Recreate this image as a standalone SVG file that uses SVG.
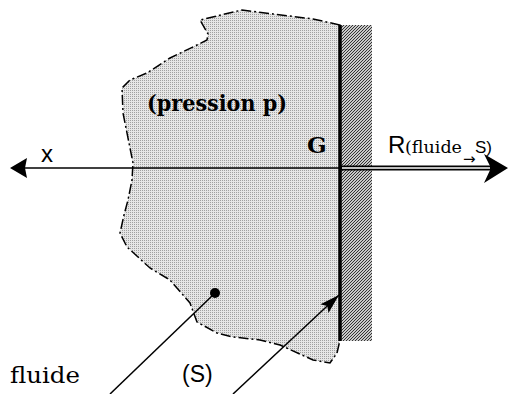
<svg xmlns="http://www.w3.org/2000/svg" width="510" height="394" viewBox="0 0 510 394">
<style>
.serif{font-family:"DejaVu Serif","Liberation Serif",serif}
.sans{font-family:"Liberation Sans",Arial,sans-serif}
.ln{stroke:#000;stroke-width:1.5;fill:none}
</style>
<defs>
<pattern id="dots" width="2" height="2" patternUnits="userSpaceOnUse">
<rect width="2" height="2" fill="#e6e6e6"/>
<rect width="1" height="1" fill="#a0a0a0"/>
</pattern>
<pattern id="hatch" width="3" height="3" patternUnits="userSpaceOnUse">
<rect width="3" height="3" fill="#c8c8c8"/>
<path d="M-1,1 L1,-1 M0,3 L3,0 M2,4 L4,2" stroke="#333" stroke-width="1"/>
</pattern>
<marker id="ah" viewBox="0 0 20 12" refX="20" refY="6" markerWidth="20" markerHeight="12" markerUnits="userSpaceOnUse" orient="auto">
<path d="M0,0 L20,6 L0,12 L4,6 Z" fill="#000"/>
</marker>
</defs>
<g id="fluide-region">
<path d="M340,25 L313,19 L273,14 L242,10 L200,20 L208,34 L207,40 L197,45 L170,58 L147,73 L130,80 L122,88 L123,113 L133,163 L132,180 L128,200 L124,215 L120,233 L127,247 L150,268 L170,280 L190,303 L197,322 L217,333 L233,337 L260,340 L280,345 L313,360 L330,363 L337,353 L340,340 Z" fill="url(#dots)" stroke="#000" stroke-width="1.5" stroke-dasharray="10 3 2 3"/>
</g>
<g id="paroi">
<rect x="341" y="25" width="31" height="316" fill="url(#hatch)"/>
<line x1="340" y1="25" x2="340" y2="341" stroke="#000" stroke-width="3.5"/>
</g>
<g id="connectors">
<line x1="24" y1="168" x2="340" y2="168" class="ln"/>
<path d="M10,168 L27,158 L25,168 L27,178 Z" fill="#000"/>
<line x1="340" y1="168" x2="492" y2="168" stroke="#000" stroke-width="5"/>
<line x1="342" y1="168" x2="490" y2="168" stroke="#fff" stroke-width="1.5"/>
<path d="M508,168 L484,154 L491,168 L484,183 Z" fill="#000"/>
<line x1="110" y1="394" x2="213" y2="295" class="ln"/>
<line x1="233" y1="394" x2="339" y2="295" class="ln" marker-end="url(#ah)"/>
</g>
<g id="point">
<circle cx="215" cy="293" r="5" fill="#000"/>
</g>
<g id="labels">
<text x="41" y="162" class="sans" font-size="24">x</text>
<text x="307" y="153" class="serif" font-size="23" font-weight="bold">G</text>
<text x="147" y="111" class="serif" font-size="22" font-weight="bold" textLength="140" lengthAdjust="spacingAndGlyphs">(pression p)</text>
<text x="388" y="153" class="sans" font-size="24">R</text>
<text x="405" y="153" class="serif" font-size="17" textLength="57" lengthAdjust="spacingAndGlyphs">(fluide</text>
<text x="463" y="164" font-family="DejaVu Sans,sans-serif" font-size="15">→</text>
<text x="475" y="153" class="sans" font-size="17">S)</text>
<text x="10" y="383" class="serif" font-size="23" textLength="70" lengthAdjust="spacingAndGlyphs">fluide</text>
<text x="182" y="382" class="sans" font-size="23">(S)</text>
</g>
</svg>
